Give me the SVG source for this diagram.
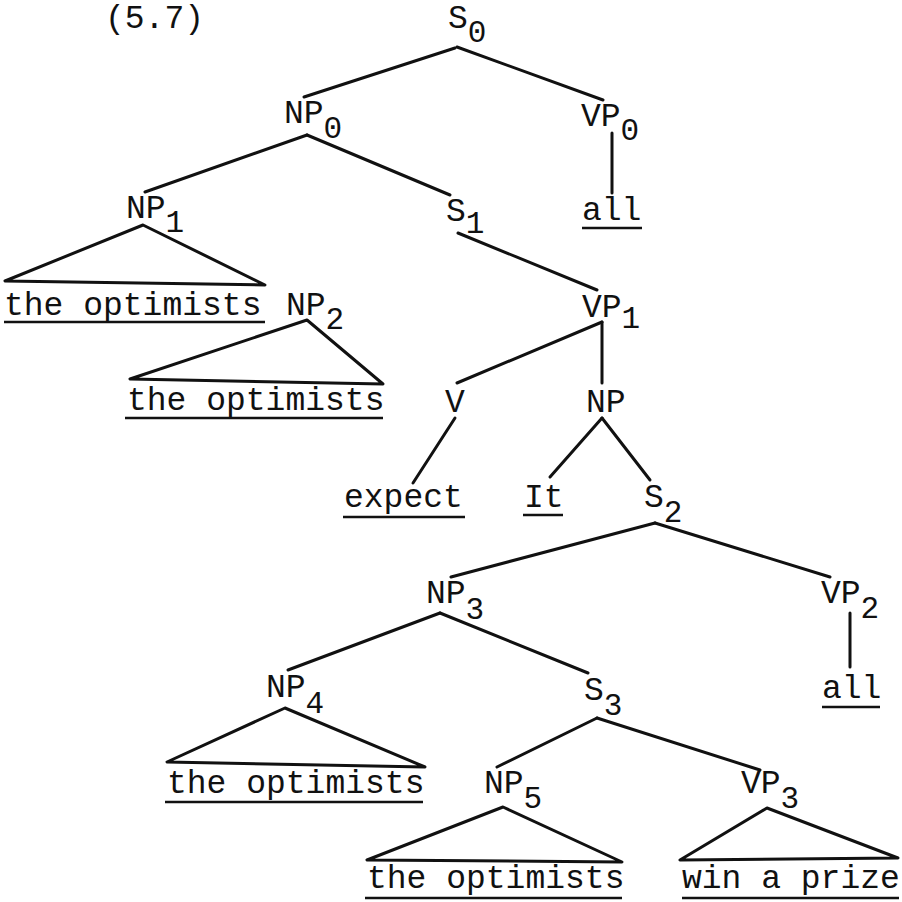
<svg xmlns="http://www.w3.org/2000/svg" width="902" height="902" viewBox="0 0 902 902">
  <style>
    .lbl { font-family: "Liberation Mono", "Courier New", monospace; font-size: 33px; fill: #111; }
    .sub { font-size: 31px; }
    .edge { stroke: #111; stroke-width: 3; fill: none; stroke-linecap: round; stroke-linejoin: round; }
    .ul { stroke: #111; stroke-width: 2.6; }
  </style>
  <rect width="902" height="902" fill="#fff"/>

  <!-- tree branches -->
  <g id="connectors" class="edge">
    <line x1="455" y1="48" x2="304" y2="97"/>
    <line x1="457" y1="47" x2="603" y2="100"/>
    <line x1="612" y1="133" x2="612" y2="193"/>
    <line x1="307" y1="135" x2="145" y2="192"/>
    <line x1="307" y1="135" x2="450" y2="195"/>
    <line x1="458" y1="233" x2="597" y2="290"/>
    <path d="M143 225 L5 281 L265 285 Z"/>
    <path d="M307 320 L130 379 L383 384 Z"/>
    <line x1="602" y1="322" x2="457" y2="383"/>
    <line x1="602" y1="322" x2="602" y2="383"/>
    <line x1="455" y1="418" x2="413" y2="483"/>
    <line x1="602" y1="418" x2="550" y2="477"/>
    <line x1="602" y1="418" x2="650" y2="480"/>
    <line x1="655" y1="523" x2="451" y2="577"/>
    <line x1="655" y1="523" x2="830" y2="577"/>
    <line x1="850" y1="613" x2="850" y2="667"/>
    <line x1="440" y1="613" x2="288" y2="670"/>
    <line x1="440" y1="613" x2="588" y2="673"/>
    <path d="M285 708 L167 762 L425 767 Z"/>
    <line x1="597" y1="718" x2="497" y2="767"/>
    <line x1="597" y1="718" x2="760" y2="770"/>
    <path d="M503 807 L367 860 L622 862 Z"/>
    <path d="M767 808 L680 860 L898 858 Z"/>
  </g>

  <g id="number"><text class="lbl" x="105" y="28">(5.7)</text></g>

  <g id="S0"><text class="lbl" x="448" y="28">S<tspan class="sub" dy="14">0</tspan></text></g>
  <g id="NP0"><text class="lbl" x="284" y="123">NP<tspan class="sub" dy="15">0</tspan></text></g>
  <g id="VP0"><text class="lbl" x="581" y="126">VP<tspan class="sub" dy="14">0</tspan></text></g>
  <g id="all0"><text class="lbl" x="582" y="220">all</text><line class="ul" x1="582" y1="228" x2="642" y2="228"/></g>
  <g id="NP1"><text class="lbl" x="126" y="218">NP<tspan class="sub" dy="14">1</tspan></text></g>
  <g id="S1"><text class="lbl" x="446" y="221">S<tspan class="sub" dy="12">1</tspan></text></g>
  <g id="leaf1"><text class="lbl" x="4" y="315">the optimists</text><line class="ul" x1="4" y1="322" x2="265" y2="322"/></g>
  <g id="NP2"><text class="lbl" x="286" y="315">NP<tspan class="sub" dy="14">2</tspan></text></g>
  <g id="leaf2"><text class="lbl" x="127" y="410">the optimists</text><line class="ul" x1="125" y1="418" x2="383" y2="418"/></g>
  <g id="VP1"><text class="lbl" x="582" y="317">VP<tspan class="sub" dy="11">1</tspan></text></g>
  <g id="V"><text class="lbl" x="445" y="412">V</text></g>
  <g id="NP"><text class="lbl" x="586" y="412">NP</text></g>
  <g id="expect"><text class="lbl" x="344" y="507">expect</text><line class="ul" x1="343" y1="517" x2="465" y2="517"/></g>
  <g id="It"><text class="lbl" x="524" y="507">It</text><line class="ul" x1="523" y1="515" x2="563" y2="515"/></g>
  <g id="S2"><text class="lbl" x="644" y="507">S<tspan class="sub" dy="15">2</tspan></text></g>
  <g id="NP3"><text class="lbl" x="426" y="603">NP<tspan class="sub" dy="16">3</tspan></text></g>
  <g id="VP2"><text class="lbl" x="821" y="603">VP<tspan class="sub" dy="15">2</tspan></text></g>
  <g id="all2"><text class="lbl" x="822" y="698">all</text><line class="ul" x1="822" y1="707" x2="880" y2="707"/></g>
  <g id="NP4"><text class="lbl" x="266" y="697">NP<tspan class="sub" dy="16">4</tspan></text></g>
  <g id="S3"><text class="lbl" x="584" y="700">S<tspan class="sub" dy="15">3</tspan></text></g>
  <g id="leaf3"><text class="lbl" x="167" y="793">the optimists</text><line class="ul" x1="165" y1="802" x2="423" y2="802"/></g>
  <g id="NP5"><text class="lbl" x="484" y="793">NP<tspan class="sub" dy="15">5</tspan></text></g>
  <g id="VP3"><text class="lbl" x="741" y="793">VP<tspan class="sub" dy="15">3</tspan></text></g>
  <g id="leaf4"><text class="lbl" x="367" y="888">the optimists</text><line class="ul" x1="365" y1="898" x2="622" y2="898"/></g>
  <g id="leaf5"><text class="lbl" x="682" y="888">win a prize</text><line class="ul" x1="682" y1="898" x2="899" y2="898"/></g>
</svg>
